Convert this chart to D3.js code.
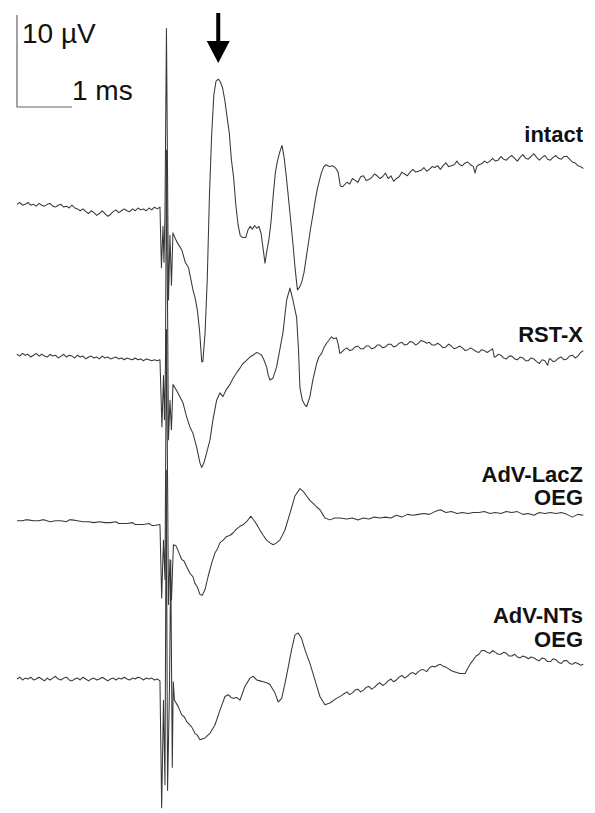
<!DOCTYPE html>
<html><head><meta charset="utf-8">
<script src="https://cdn.jsdelivr.net/npm/d3@7"></script>
<style>html,body{margin:0;padding:0;background:#fff;}svg{display:block;}</style>
</head><body>
<script>
// ---- DATA (time in ms relative to stimulus, voltage in µV relative to each trace baseline) ----
const traceNames = ["intact", "RST-X", "AdV-LacZ", "AdV-NTs"];
const traceLabels = [["intact"], ["RST-X"], ["AdV-LacZ", "OEG"], ["AdV-NTs", "OEG"]];
const traceOffsets = [0, -16.2, -34.1, -51.3]; // µV vertical stacking offsets
const scaleBarUV = 10;
const scaleBarMs = 1;
const scaleBarLabels = ["10 µV", "1 ms"];
const arrowTime = 1.06; // ms, marks first peak of intact trace

const intact = [
[-2.60,0.4],[-2.55,0.6],[-2.50,0.3],[-2.45,0.4],[-2.40,0.6],[-2.35,0.3],[-2.30,0.4],[-2.25,0.2],[-2.20,0.5],[-2.15,0.3],[-2.10,0.2],[-2.05,0.4],[-2.00,0.5],[-1.95,0.2],[-1.90,0.1],[-1.85,0.3],[-1.80,0.4],[-1.75,0.1],[-1.70,0.2],[-1.65,0.0],[-1.60,0.3],[-1.55,0.0],[-1.50,-0.1],[-1.45,-0.3],[-1.40,-0.1],[-1.35,-0.4],[-1.30,-0.6],[-1.25,-0.3],[-1.20,-0.5],[-1.15,-0.8],[-1.10,-0.6],[-1.05,-0.3],[-1.00,-0.6],[-0.95,-0.9],[-0.90,-0.7],[-0.85,-0.4],[-0.80,-0.2],[-0.75,-0.5],[-0.70,-0.3],[-0.65,-0.1],[-0.60,-0.3],[-0.55,-0.4],[-0.50,-0.1],[-0.45,-0.3],[-0.40,0.0],[-0.35,-0.2],[-0.30,-0.1],[-0.25,-0.3],[-0.20,0.0],[-0.15,-0.2],[-0.10,0.1],[-0.05,-0.1],[0.00,0.1],
[0.027,-6.5],[0.055,-2.0],[0.073,-5.9],[0.091,-0.7],[0.118,19.5],[0.155,-10.0],[0.182,-3.0],[0.209,-8.4],[0.236,-2.7],
[0.30,-3.6],[0.36,-4.2],[0.40,-4.6],[0.46,-5.9],[0.52,-6.5],[0.56,-7.7],[0.60,-8.9],[0.64,-9.8],[0.68,-11.1],[0.72,-13.3],[0.76,-16.7],[0.78,-16.7],[0.82,-13.6],[0.86,-7.8],[0.90,1.4],[0.94,7.9],[0.98,12.3],[1.02,13.8],[1.06,14.0],[1.10,13.7],[1.14,13.0],[1.18,11.7],[1.22,9.9],[1.26,8.2],[1.30,5.2],[1.34,3.3],[1.38,0.3],[1.42,-1.8],[1.46,-3.0],[1.50,-3.2],[1.56,-3.2],[1.60,-2.4],[1.64,-2.0],[1.68,-2.3],[1.72,-1.9],[1.76,-2.2],[1.80,-2.0],[1.84,-2.8],[1.88,-4.6],[1.91,-6.0],[1.94,-4.8],[1.98,-3.5],[2.02,-1.5],[2.06,1.4],[2.10,3.9],[2.14,5.2],[2.18,6.1],[2.22,6.8],[2.26,5.4],[2.30,3.3],[2.34,0.9],[2.38,-1.5],[2.42,-4.0],[2.46,-6.7],[2.50,-8.9],[2.54,-8.6],[2.58,-8.0],[2.62,-7.0],[2.66,-5.4],[2.70,-3.8],[2.74,-2.2],[2.78,-0.8],[2.82,0.7],[2.86,2.0],[2.90,3.0],[2.94,3.9],[2.98,4.5],[3.02,4.7],[3.08,4.5],[3.14,4.6],[3.20,4.3],[3.24,3.9],[3.28,2.4],[3.32,2.3],
[3.4,2.8],[3.45,2.6],[3.5,3.2],[3.55,3.0],[3.6,2.8],[3.65,3.4],[3.7,3.5],[3.75,3.0],[3.8,3.1],[3.85,3.3],[3.9,3.7],[3.95,3.5],[4.0,3.2],[4.05,3.4],[4.1,3.8],[4.15,3.2],[4.2,3.5],[4.25,2.9],[4.3,3.2],[4.35,3.4],[4.4,3.9],[4.45,3.7],[4.5,3.5],[4.55,3.9],[4.6,4.2],[4.65,3.9],[4.7,4.0],[4.75,4.1],[4.8,4.4],[4.85,4.0],[4.9,4.2],[4.95,4.5],[5.0,4.4],[5.05,4.6],[5.1,4.2],[5.15,4.6],[5.2,4.9],[5.25,4.5],[5.3,4.6],[5.35,4.7],[5.4,5.1],[5.45,4.7],[5.5,4.6],[5.55,4.9],[5.6,5.0],[5.65,4.7],[5.7,4.5],[5.73,3.8],[5.76,4.5],[5.8,4.7],[5.85,4.8],[5.9,5.1],[5.95,4.9],[6.0,5.1],[6.05,5.4],[6.1,5.1],[6.15,5.2],[6.2,5.6],[6.25,5.3],[6.3,5.2],[6.35,5.5],[6.4,5.7],[6.45,5.4],[6.5,5.1],[6.55,5.5],[6.6,5.8],[6.65,5.4],[6.7,5.3],[6.75,5.6],[6.8,5.9],[6.85,5.5],[6.9,5.2],[6.95,5.5],[7.0,5.7],[7.05,5.3],[7.1,5.2],[7.15,5.5],[7.2,5.7],[7.25,5.4],[7.3,5.3],[7.35,5.6],[7.4,5.6],[7.45,5.3],[7.5,5.0],[7.55,4.9],[7.6,4.6],[7.65,4.5],[7.7,4.3]
];

const rstX = [
[-2.60,0.3],[-2.55,0.1],[-2.50,0.4],[-2.45,0.2],[-2.40,0.3],[-2.35,0.0],[-2.30,0.2],[-2.25,0.4],[-2.20,0.1],[-2.15,0.3],[-2.10,0.1],[-2.05,0.0],[-2.00,0.3],[-1.95,0.1],[-1.90,0.2],[-1.85,-0.1],[-1.80,0.1],[-1.75,0.3],[-1.70,0.0],[-1.65,0.2],[-1.60,0.1],[-1.55,-0.1],[-1.50,0.2],[-1.45,0.0],[-1.40,0.1],[-1.35,-0.2],[-1.30,0.0],[-1.25,0.1],[-1.20,-0.1],[-1.15,0.0],[-1.10,-0.2],[-1.05,0.1],[-1.00,-0.1],[-0.95,0.0],[-0.90,-0.2],[-0.85,-0.1],[-0.80,0.0],[-0.75,-0.2],[-0.70,-0.1],[-0.65,-0.3],[-0.60,-0.1],[-0.55,-0.2],[-0.50,-0.3],[-0.45,-0.1],[-0.40,-0.3],[-0.35,-0.2],[-0.30,-0.4],[-0.25,-0.2],[-0.20,-0.3],[-0.15,-0.4],[-0.10,-0.3],[-0.05,-0.4],[0.00,-0.3],
[0.036,-7.6],[0.064,-2.0],[0.082,-6.8],[0.100,-0.9],[0.118,22.5],[0.155,-9.0],[0.182,-4.7],[0.209,-7.9],[0.236,-3.0],
[0.30,-3.6],[0.36,-4.3],[0.42,-5.0],[0.485,-6.5],[0.545,-7.6],[0.60,-8.3],[0.667,-9.8],[0.727,-11.5],[0.758,-12.0],[0.80,-11.5],[0.85,-10.4],[0.91,-9.0],[0.964,-6.8],[1.03,-4.7],[1.09,-3.9],[1.145,-4.3],[1.20,-3.6],[1.27,-3.0],[1.33,-2.3],[1.395,-1.7],[1.455,-1.2],[1.51,-0.7],[1.57,-0.4],[1.636,0.0],[1.69,0.2],[1.76,0.5],[1.80,0.4],[1.85,0.2],[1.89,-0.3],[1.94,-1.1],[1.97,-2.0],[2.00,-2.5],[2.055,-2.3],[2.12,-1.1],[2.18,0.8],[2.236,2.6],[2.304,6.2],[2.364,7.5],[2.418,6.2],[2.485,4.3],[2.52,0.8],[2.545,-3.3],[2.59,-4.7],[2.636,-5.2],[2.667,-5.4],[2.727,-4.3],[2.78,-2.5],[2.85,-0.7],[2.89,0.0],[2.94,0.4],[2.98,1.0],[3.03,1.5],[3.07,1.8],[3.12,2.2],[3.16,2.0],[3.21,2.1],[3.245,1.3],[3.27,0.4],[3.3,0.5],
[3.35,0.8],[3.4,1.0],[3.45,0.7],[3.5,0.8],[3.55,1.1],[3.6,1.2],[3.65,0.9],[3.7,0.9],[3.75,1.2],[3.8,1.2],[3.85,0.9],[3.9,1.0],[3.95,1.3],[4.0,1.3],[4.05,1.0],[4.1,1.1],[4.15,1.4],[4.2,1.4],[4.25,1.1],[4.3,1.2],[4.35,1.5],[4.4,1.6],[4.45,1.3],[4.5,1.4],[4.55,1.7],[4.6,1.6],[4.65,1.3],[4.7,1.5],[4.75,1.8],[4.8,1.7],[4.85,1.5],[4.9,1.6],[4.95,1.3],[5.0,1.3],[5.05,1.5],[5.1,1.3],[5.15,1.0],[5.2,1.1],[5.25,1.4],[5.3,1.2],[5.35,0.9],[5.4,1.0],[5.45,1.2],[5.5,1.0],[5.55,0.7],[5.6,0.8],[5.65,1.0],[5.7,0.8],[5.75,0.6],[5.8,0.5],[5.85,0.8],[5.9,0.7],[5.95,0.5],[6.0,0.7],[6.05,0.9],[6.08,0.0],[6.1,0.0],[6.15,0.3],[6.2,0.2],[6.25,-0.1],[6.3,-0.2],[6.35,0.1],[6.4,0.1],[6.45,-0.2],[6.5,-0.3],[6.55,0.0],[6.6,-0.1],[6.65,-0.4],[6.7,-0.4],[6.75,-0.1],[6.8,-0.2],[6.85,-0.5],[6.9,-0.7],[6.95,-0.3],[7.0,-0.4],[7.05,-0.9],[7.08,-0.2],[7.1,-0.2],[7.15,-0.5],[7.2,-0.4],[7.25,-0.1],[7.3,0.0],[7.35,-0.3],[7.4,-0.2],[7.45,0.1],[7.5,0.2],[7.55,-0.1],[7.6,0.1],[7.65,0.5],[7.7,0.7]
];

const lacZ = [
[-2.6,0.1],[-2.5,0.1],[-2.45,0.2],[-2.4,0.2],[-2.3,0.1],[-2.2,0.1],[-2.15,0.2],[-2.1,0.2],[-2.0,0.0],[-1.9,0.1],[-1.8,0.1],[-1.7,0.0],[-1.65,0.2],[-1.6,0.2],[-1.5,0.1],[-1.4,0.0],[-1.3,0.0],[-1.2,-0.1],[-1.1,0.0],[-1.0,-0.1],[-0.9,-0.1],[-0.8,0.0],[-0.75,-0.2],[-0.7,-0.2],[-0.6,-0.2],[-0.5,-0.1],[-0.45,-0.3],[-0.4,-0.3],[-0.3,-0.3],[-0.2,-0.2],[-0.15,-0.4],[-0.1,-0.4],[0.0,-0.3],
[0.031,-8.3],[0.064,-2.0],[0.091,-6.3],[0.118,20.9],[0.155,-9.0],[0.182,-4.1],[0.209,-8.5],[0.245,-2.5],
[0.29,-2.6],[0.333,-3.2],[0.395,-4.1],[0.44,-4.3],[0.485,-4.9],[0.545,-5.6],[0.60,-6.0],[0.636,-6.7],[0.68,-7.1],[0.727,-7.9],[0.769,-8.0],[0.818,-7.4],[0.878,-5.9],[0.94,-4.5],[1.0,-3.4],[1.05,-2.9],[1.09,-2.3],[1.15,-2.0],[1.213,-1.6],[1.27,-1.5],[1.333,-1.2],[1.39,-0.8],[1.455,-0.5],[1.52,-0.3],[1.576,0.0],[1.649,0.6],[1.69,0.3],[1.727,0.0],[1.77,-0.4],[1.818,-0.9],[1.88,-1.5],[1.94,-2.0],[2.0,-2.3],[2.06,-2.5],[2.12,-2.3],[2.18,-2.0],[2.273,-0.9],[2.364,0.9],[2.455,2.8],[2.545,3.6],[2.605,3.3],[2.667,2.8],[2.73,2.3],[2.787,2.0],[2.85,1.6],[2.909,1.3],[2.96,0.8],[3.0,0.4],[3.09,0.2],[3.18,0.4],[3.27,0.4],
[3.4,0.3],[3.5,0.4],[3.6,0.2],[3.7,0.4],[3.8,0.3],[3.9,0.5],[4.0,0.4],[4.1,0.5],[4.2,0.4],[4.3,0.7],[4.4,0.5],[4.5,0.8],[4.6,0.7],[4.7,0.8],[4.8,0.9],[4.9,0.8],[5.0,1.1],[5.1,1.3],[5.2,1.0],[5.3,1.1],[5.4,0.9],[5.5,1.0],[5.6,0.9],[5.7,1.0],[5.8,1.0],[5.9,1.1],[6.0,0.9],[6.1,1.0],[6.2,0.9],[6.3,1.1],[6.4,1.0],[6.5,1.1],[6.6,0.8],[6.7,0.9],[6.8,0.7],[6.9,1.0],[7.0,0.9],[7.1,1.0],[7.2,0.9],[7.3,1.0],[7.4,0.8],[7.5,0.5],[7.6,0.8],[7.7,0.7]
];

const nts = [
[-2.60,0.1],[-2.55,0.3],[-2.50,0.0],[-2.45,0.2],[-2.40,0.1],[-2.35,0.3],[-2.30,0.0],[-2.25,0.1],[-2.20,0.3],[-2.15,0.1],[-2.10,-0.1],[-2.05,0.2],[-2.00,0.0],[-1.95,0.2],[-1.90,0.4],[-1.85,0.1],[-1.80,0.0],[-1.75,0.2],[-1.70,0.3],[-1.65,0.0],[-1.60,-0.1],[-1.55,0.1],[-1.50,0.2],[-1.45,0.0],[-1.40,0.3],[-1.35,0.1],[-1.30,-0.1],[-1.25,0.1],[-1.20,0.2],[-1.15,0.0],[-1.10,0.1],[-1.05,0.3],[-1.00,0.1],[-0.95,-0.1],[-0.90,0.1],[-0.85,0.2],[-0.80,0.0],[-0.75,0.2],[-0.70,0.1],[-0.65,0.3],[-0.60,0.1],[-0.55,0.0],[-0.50,0.2],[-0.45,0.1],[-0.40,0.3],[-0.35,0.2],[-0.30,0.0],[-0.25,0.2],[-0.20,0.1],[-0.15,0.2],[-0.10,0.0],[-0.05,0.1],[0.00,-0.1],
[0.031,-13.9],[0.064,-2.2],[0.091,-11.4],[0.115,22.8],[0.138,-12.0],[0.173,-1.0],[0.196,13.0],[0.224,-9.5],[0.242,-0.2],[0.264,-2.2],
[0.333,-2.9],[0.395,-3.8],[0.44,-4.0],[0.485,-4.5],[0.53,-4.8],[0.576,-5.1],[0.636,-5.8],[0.68,-6.0],[0.727,-6.5],[0.818,-6.3],[0.909,-5.8],[1.0,-4.9],[1.09,-3.3],[1.182,-1.8],[1.242,-1.6],[1.29,-1.9],[1.333,-2.0],[1.395,-1.9],[1.455,-2.2],[1.545,-0.7],[1.636,0.2],[1.696,0.4],[1.758,0.0],[1.82,-0.1],[1.878,-0.2],[1.94,-0.3],[2.0,-0.5],[2.09,-1.4],[2.15,-2.4],[2.213,-2.0],[2.273,-0.4],[2.333,1.4],[2.394,3.3],[2.455,4.9],[2.515,5.1],[2.576,4.5],[2.636,3.3],[2.727,1.8],[2.818,0.0],[2.909,-1.8],[3.0,-2.7],[3.09,-2.5],[3.21,-2.0],[3.3,-1.7],
[3.35,-1.5],[3.4,-1.3],[3.45,-1.6],[3.5,-1.4],[3.55,-1.1],[3.6,-1.0],[3.65,-1.3],[3.7,-1.1],[3.75,-0.8],[3.8,-0.7],[3.85,-1.0],[3.9,-0.8],[3.95,-0.5],[4.0,-0.3],[4.05,-0.6],[4.1,-0.4],[4.15,-0.1],[4.2,0.1],[4.25,-0.2],[4.3,0.0],[4.35,0.3],[4.4,0.5],[4.45,0.2],[4.5,0.4],[4.55,0.7],[4.6,0.8],[4.65,0.6],[4.7,0.9],[4.75,1.1],[4.8,1.1],[4.85,0.9],[4.9,1.3],[4.95,1.5],[5.0,1.4],[5.05,1.6],[5.1,1.7],[5.15,1.5],[5.2,1.4],[5.25,1.2],[5.3,1.0],[5.35,0.9],[5.4,0.8],[5.45,0.7],[5.5,0.7],[5.55,0.7],[5.6,1.3],[5.65,1.8],[5.7,2.2],[5.75,2.6],[5.8,2.8],[5.85,3.2],[5.9,3.2],[5.95,3.0],[6.0,2.9],[6.05,3.2],[6.1,3.0],[6.15,2.8],[6.2,2.8],[6.25,3.0],[6.3,2.9],[6.35,2.6],[6.4,2.6],[6.45,2.8],[6.5,2.5],[6.55,2.4],[6.6,2.6],[6.65,2.5],[6.7,2.3],[6.75,2.5],[6.8,2.4],[6.85,2.2],[6.9,2.1],[6.95,2.4],[7.0,2.3],[7.05,2.0],[7.1,2.0],[7.15,2.3],[7.2,2.2],[7.25,1.9],[7.3,1.8],[7.35,2.1],[7.4,2.1],[7.45,1.8],[7.5,1.7],[7.55,1.9],[7.6,1.8],[7.65,1.6],[7.7,1.7]
];

const traces = [intact, rstX, lacZ, nts];

// ---- LAYOUT ----
const W = 595, H = 813;
const svg = d3.select("body").append("svg").attr("width", W).attr("height", H);

const xScale = d3.scaleLinear().domain([-2.6, 7.73]).range([17, 585]);
const yScale = d3.scaleLinear().domain([0, 10]).range([208, 116]); // 10 µV = 92 px

const line = (off) => d3.line()
  .x(d => xScale(d[0]))
  .y(d => yScale(d[1] + off));

svg.append("g").selectAll("path")
  .data(traces)
  .join("path")
  .attr("d", (d, i) => line(traceOffsets[i])(d))
  .attr("fill", "none")
  .attr("stroke", "#383838")
  .attr("stroke-width", 1.05)
  .attr("stroke-linejoin", "round");

// labels (right-aligned)
const labelBaselines = [[142], [342], [482, 505], [623, 647]];
const lg = svg.append("g")
  .attr("font-family", "'Liberation Sans', Arial, sans-serif")
  .attr("font-weight", "bold")
  .attr("font-size", 22)
  .attr("fill", "#111")
  .attr("text-anchor", "end");
traceLabels.forEach((lines, i) => {
  lines.forEach((t, j) => {
    lg.append("text").attr("x", 583).attr("y", labelBaselines[i][j]).text(t);
  });
});

// scale bar
const sbX = 17, sbY = 107;
const vLen = yScale(0) - yScale(scaleBarUV);
const hLen = xScale(scaleBarMs) - xScale(0);
svg.append("path")
  .attr("d", `M${sbX},${sbY - vLen}V${sbY}H${sbX + hLen}`)
  .attr("fill", "none").attr("stroke", "#666").attr("stroke-width", 1.2);
const sg = svg.append("g")
  .attr("font-family", "'Liberation Sans', Arial, sans-serif")
  .attr("font-size", 28).attr("fill", "#111");
sg.append("text").attr("x", 22).attr("y", 43).text(scaleBarLabels[0]);
sg.append("text").attr("x", 72).attr("y", 100).text(scaleBarLabels[1]);

// arrow over first peak
const ax = xScale(arrowTime);
svg.append("path")
  .attr("d", `M${ax - 2},13H${ax + 2}V41H${ax + 11.5}L${ax},63L${ax - 11.5},41H${ax - 2}Z`)
  .attr("fill", "#000");
</script>
</body></html>
